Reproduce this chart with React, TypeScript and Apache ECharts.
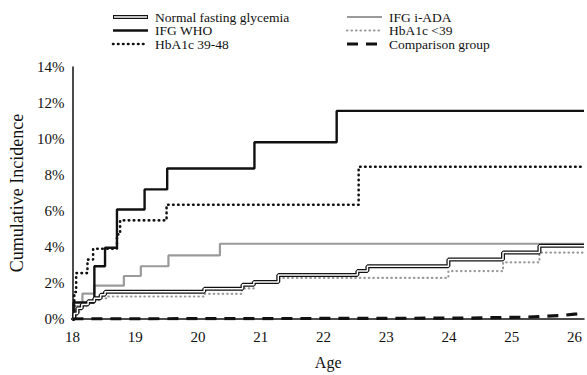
import React, { useEffect, useRef } from "react";
import * as echarts from "echarts";

const xTicks = [18, 19, 20, 21, 22, 23, 24, 25, 26];
const yTicks = [0, 2, 4, 6, 8, 10, 12, 14];

const normalFasting: [number, number][] = [
  [18, 0], [18.03, 0.3], [18.08, 0.6], [18.15, 0.8], [18.25, 0.98], [18.35, 1.15],
  [18.45, 1.35], [18.52, 1.52], [20.1, 1.68], [20.71, 1.9], [20.89, 2.06],
  [21.28, 2.44], [22.54, 2.66], [22.7, 2.93], [23.99, 3.3], [24.86, 3.69],
  [25.44, 4.07], [26.15, 4.07],
];
const ifgWho: [number, number][] = [
  [18, 0], [18.02, 0.92], [18.35, 2.93], [18.52, 3.96], [18.71, 6.08], [19.15, 7.2],
  [19.51, 8.36], [20.9, 9.82], [22.21, 11.56], [26.15, 11.56],
];
const hba1c3948: [number, number][] = [
  [18, 0], [18.03, 1.5], [18.06, 2.55], [18.24, 3.3], [18.33, 3.9], [18.71, 4.7],
  [18.76, 5.48], [19.5, 6.35], [22.56, 8.46], [26.15, 8.46],
];
const ifgIada: [number, number][] = [
  [18, 0], [18.05, 0.7], [18.16, 1.41], [18.35, 1.85], [18.82, 2.39], [19.09, 2.93],
  [19.53, 3.53], [20.35, 4.18], [26.15, 4.18],
];
const hba1cLt39: [number, number][] = [
  [18, 0], [18.05, 0.4], [18.12, 0.7], [18.22, 0.9], [18.35, 1.05], [18.45, 1.15],
  [18.55, 1.25], [20.1, 1.4], [20.7, 1.7], [20.9, 2.0], [21.28, 2.28], [23.99, 2.66],
  [24.86, 3.15], [25.44, 3.69], [26.15, 3.69],
];
const comparison: [number, number][] = [
  [18, 0], [20, 0.02], [22, 0.03], [24.3, 0.05], [24.8, 0.08], [25.2, 0.1],
  [25.5, 0.15], [25.8, 0.2], [26.0, 0.27], [26.15, 0.3],
];

const legendNames = [
  "Normal fasting glycemia", "IFG WHO", "HbA1c 39-48",
  "IFG i-ADA", "HbA1c <39", "Comparison group",
];

const FONT = "Liberation Serif";
const BLACK = "#111";
const GRAY = "#9a9a9a";

export default function App() {
  const ref = useRef<HTMLDivElement>(null);
  useEffect(() => {
    if (!ref.current) return;
    const chart = echarts.init(ref.current, undefined, { renderer: "svg" });

    const dotBlack = { type: [0.5, 4.5], cap: "round", width: 2.6, color: BLACK };
    const dotGray = { type: [0.5, 4], cap: "round", width: 2.2, color: GRAY };

    const legendItem = (x: number, y: number, idx: number) => {
      const lx1 = x, lx2 = x + 35;
      const els: any[] = [];
      if (idx === 0) {
        els.push({ type: "line", shape: { x1: lx1, y1: y, x2: lx2, y2: y }, style: { stroke: BLACK, lineWidth: 4.2 } });
        els.push({ type: "line", shape: { x1: lx1 + 1, y1: y, x2: lx2 - 1, y2: y }, style: { stroke: "#fff", lineWidth: 1.6 } });
      } else if (idx === 1) {
        els.push({ type: "line", shape: { x1: lx1, y1: y, x2: lx2, y2: y }, style: { stroke: BLACK, lineWidth: 2.4 } });
      } else if (idx === 2) {
        els.push({ type: "line", shape: { x1: lx1, y1: y, x2: lx2, y2: y }, style: { stroke: BLACK, lineWidth: 2.6, lineDash: [0.5, 4.5], lineCap: "round" } });
      } else if (idx === 3) {
        els.push({ type: "line", shape: { x1: lx1, y1: y, x2: lx2, y2: y }, style: { stroke: GRAY, lineWidth: 2.2 } });
      } else if (idx === 4) {
        els.push({ type: "line", shape: { x1: lx1, y1: y, x2: lx2, y2: y }, style: { stroke: GRAY, lineWidth: 2.2, lineDash: [0.5, 4], lineCap: "round" } });
      } else {
        els.push({ type: "line", shape: { x1: lx1, y1: y, x2: lx2, y2: y }, style: { stroke: BLACK, lineWidth: 3.2, lineDash: [11, 8] } });
      }
      els.push({
        type: "text", x: x + 42, y: y,
        style: { text: legendNames[idx], fontFamily: FONT, fontSize: 13.5, fill: BLACK, verticalAlign: "middle" },
      });
      return els;
    };

    const graphics: any[] = [];
    const rows = [17, 30.5, 44];
    for (let i = 0; i < 3; i++) graphics.push(...legendItem(113, rows[i], i));
    for (let i = 0; i < 3; i++) graphics.push(...legendItem(347, rows[i], i + 3));

    chart.setOption({
      animation: false,
      backgroundColor: "#fff",
      grid: { left: 70, right: 0, top: 67, bottom: 50, containLabel: false },
      xAxis: {
        type: "value", min: xTicks[0], max: 26.15, interval: 1,
        name: "Age", nameLocation: "middle", nameGap: 35,
        nameTextStyle: { fontFamily: FONT, fontSize: 16, color: BLACK },
        axisLine: { show: true, lineStyle: { color: BLACK, width: 1.5 } },
        axisTick: { show: false },
        splitLine: { show: false },
        axisLabel: {
          fontFamily: FONT, fontSize: 15, color: BLACK, margin: 10,
          formatter: (v: number) => (xTicks.includes(v) ? String(v) : ""),
        },
      },
      yAxis: {
        type: "value", min: yTicks[0], max: yTicks[yTicks.length - 1], interval: 2,
        name: "Cumulative Incidence", nameLocation: "middle", nameGap: 42, nameRotate: 90,
        nameTextStyle: { fontFamily: FONT, fontSize: 18, color: BLACK },
        axisLine: { show: true, lineStyle: { color: BLACK, width: 1.5 } },
        axisTick: { show: false },
        splitLine: { show: false },
        axisLabel: { fontFamily: FONT, fontSize: 15, color: BLACK, margin: 8, formatter: "{value}%" },
      },
      graphic: graphics,
      series: [
        { name: "Comparison group", type: "line", data: comparison, showSymbol: false, z: 5,
          lineStyle: { color: BLACK, width: 3.2, type: [11, 8] } },
        { name: "IFG i-ADA", type: "line", step: "end", data: ifgIada, showSymbol: false, z: 2,
          lineStyle: { color: GRAY, width: 2.2 } },
        { name: "HbA1c <39", type: "line", step: "end", data: hba1cLt39, showSymbol: false, z: 2,
          lineStyle: dotGray },
        { name: "Normal fasting glycemia", type: "line", step: "end", data: normalFasting, showSymbol: false, z: 3,
          lineStyle: { color: BLACK, width: 4 } },
        { name: "Normal fasting glycemia inner", type: "line", step: "end", data: normalFasting, showSymbol: false, z: 4,
          lineStyle: { color: "#fff", width: 1.5 } },
        { name: "IFG WHO", type: "line", step: "end", data: ifgWho, showSymbol: false, z: 3,
          lineStyle: { color: BLACK, width: 2.4 } },
        { name: "HbA1c 39-48", type: "line", step: "end", data: hba1c3948, showSymbol: false, z: 3,
          lineStyle: dotBlack },
      ],
    });
    return () => chart.dispose();
  }, []);
  return <div ref={ref} style={{ width: 587, height: 375, position: "absolute", left: 0, top: 0 }} />;
}
